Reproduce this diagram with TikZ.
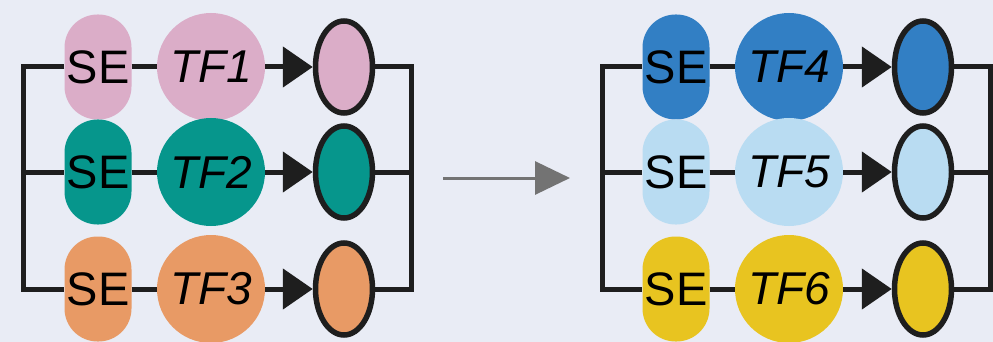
\documentclass[tikz,border=0pt]{standalone}
\usepackage{fontspec}
\setmainfont{Liberation Sans}
\usetikzlibrary{arrows.meta,shapes.geometric}
\definecolor{bgc}{HTML}{E9ECF5}
\definecolor{pinkc}{HTML}{DBADC8}
\definecolor{tealc}{HTML}{06968C}
\definecolor{orangec}{HTML}{E89A65}
\definecolor{bluec}{HTML}{327FC4}
\definecolor{lbluec}{HTML}{B9DCF2}
\definecolor{yellowc}{HTML}{E8C420}
\definecolor{linec}{HTML}{1E1E1E}
\definecolor{grayc}{HTML}{737373}
\begin{document}
\begin{tikzpicture}[x=1pt,y=-1pt,
  se/.style={rectangle,rounded corners=33pt,minimum width=67pt,minimum height=105pt,inner sep=0pt,font=\fontsize{47}{47}\selectfont},
  tf/.style={circle,minimum size=108pt,inner sep=0pt,font=\fontsize{46}{46}\selectfont\itshape},
  prod/.style={ellipse,draw=linec,line width=5.5pt,minimum width=57pt,minimum height=92pt,inner sep=0pt},
  wire/.style={draw=linec,line width=5pt},
  hit/.style={-{Triangle[length=30pt,width=40pt]}}]
  \fill [bgc] (0,0) rectangle (993,342);
  \useasboundingbox (0,0) rectangle (993,342);
  % left loop
  \node [se,fill=pinkc] (se1) at (98,67) {SE};
  \node [se,fill=tealc] (se2) at (98,172) {SE};
  \node [se,fill=orangec] (se3) at (98,289) {SE};
  \node [tf,fill=pinkc] (tf1) at (211,67) {TF1};
  \node [tf,fill=tealc] (tf2) at (211,172) {TF2};
  \node [tf,fill=orangec] (tf3) at (211,289) {TF3};
  \node [prod,fill=pinkc] (p1) at (344,67) {};
  \node [prod,fill=tealc] (p2) at (344,172) {};
  \node [prod,fill=orangec] (p3) at (344,289) {};
  \coordinate (a1) at (23,67);
  \coordinate (a2) at (23,172);
  \coordinate (a3) at (23,289);
  \coordinate (b1) at (411,67);
  \coordinate (b2) at (411,172);
  \coordinate (b3) at (411,289);
  \draw [wire] (se1.west) -- (a1) -- (a3) -- (se3.west);
  \draw [wire] (a2) -- (se2.west);
  \draw [wire] (se1) -- (tf1);
  \draw [wire] (se2) -- (tf2);
  \draw [wire] (se3) -- (tf3);
  \draw [wire,hit] (tf1) -- (p1);
  \draw [wire,hit] (tf2) -- (p2);
  \draw [wire,hit] (tf3) -- (p3);
  \draw [wire] (p1.east) -- (b1) -- (b3) -- (p3.east);
  \draw [wire] (p2.east) -- (b2);
  % middle arrow
  \coordinate (m1) at (443,178);
  \coordinate (m2) at (570,178);
  \draw [grayc,line width=3pt,-{Triangle[length=35pt,width=33pt]}] (m1) -- (m2);
  % right loop
  \node [se,fill=bluec] (se4) at (676,67) {SE};
  \node [se,fill=lbluec] (se5) at (676,172) {SE};
  \node [se,fill=yellowc] (se6) at (676,289) {SE};
  \node [tf,fill=bluec] (tf4) at (789,67) {TF4};
  \node [tf,fill=lbluec] (tf5) at (789,172) {TF5};
  \node [tf,fill=yellowc] (tf6) at (789,289) {TF6};
  \node [prod,fill=bluec] (p4) at (923,67) {};
  \node [prod,fill=lbluec] (p5) at (923,172) {};
  \node [prod,fill=yellowc] (p6) at (923,289) {};
  \coordinate (a4) at (602,67);
  \coordinate (a5) at (602,172);
  \coordinate (a6) at (602,289);
  \coordinate (b4) at (990,67);
  \coordinate (b5) at (990,172);
  \coordinate (b6) at (990,289);
  \draw [wire] (se4.west) -- (a4) -- (a6) -- (se6.west);
  \draw [wire] (a5) -- (se5.west);
  \draw [wire] (se4) -- (tf4);
  \draw [wire] (se5) -- (tf5);
  \draw [wire] (se6) -- (tf6);
  \draw [wire,hit] (tf4) -- (p4);
  \draw [wire,hit] (tf5) -- (p5);
  \draw [wire,hit] (tf6) -- (p6);
  \draw [wire] (p4.east) -- (b4) -- (b6) -- (p6.east);
  \draw [wire] (p5.east) -- (b5);
\end{tikzpicture}
\end{document}
